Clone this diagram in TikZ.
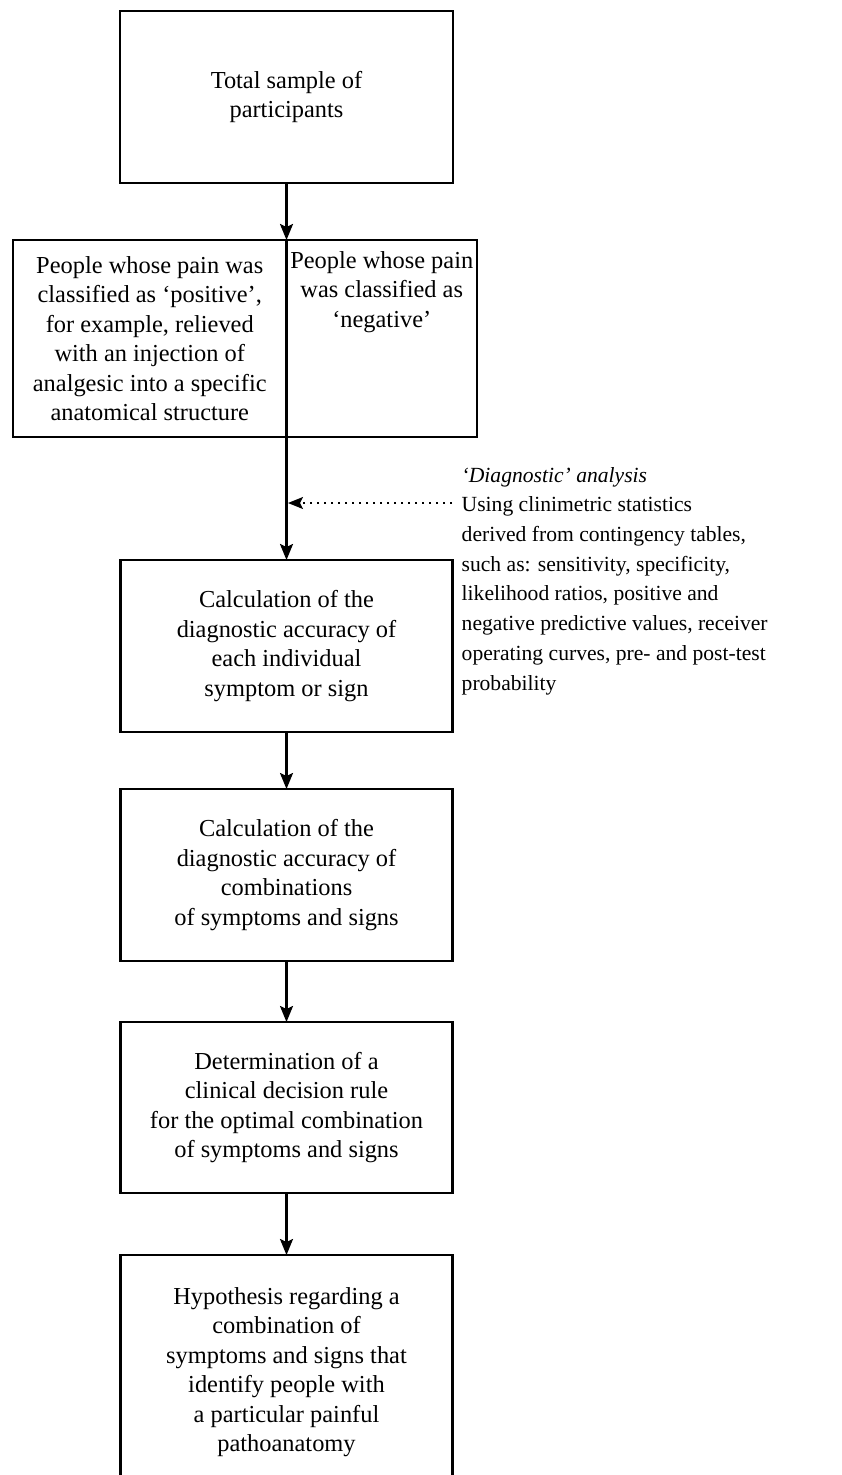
\documentclass[tikz,border=0pt]{standalone}
\usepackage{fontspec}
\setmainfont{Liberation Serif}
\usetikzlibrary{arrows.meta}
\begin{document}
\begin{tikzpicture}[x=1pt,y=-1pt,
  box/.style={draw, line width=2.2pt, align=center, inner sep=0pt, outer sep=0pt,
    font=\fontsize{24.4}{29.5}\selectfont},
  boxtext/.style={align=center, inner sep=0pt, font=\fontsize{24.4}{29.5}\selectfont},
  notetext/.style={align=left, inner sep=0pt, font=\fontsize{21.6}{29.7}\selectfont},
  arr/.style={line width=2.2pt, -{Stealth[length=16pt,width=13pt,inset=3pt]}},
  dotarr/.style={line width=1.6pt, dash pattern=on 1.6pt off 5.4pt,
    -{Stealth[length=15pt,width=12pt,inset=3pt]}, shorten >=1.5pt}
]
\useasboundingbox (0,0) rectangle (841,1475);

\node[box, minimum width=333pt, minimum height=172pt] (total) at (286.5,97)
  {Total sample of\\participants};

\node[box, minimum width=273.5pt, minimum height=197pt] (pos) at (149.75,338.5)
  {People whose pain was\\classified as ‘positive’,\\for example, relieved\\with an injection of\\analgesic into a specific\\anatomical structure};
\node[box, minimum width=190.5pt, minimum height=197pt] (neg) at (381.75,338.5) {};
\node[boxtext, anchor=north] (negtext) at (381.75,251)
  {People whose pain\\was classified as\\‘negative’};

\node[box, minimum width=332pt, minimum height=172pt] (calc1) at (286.5,646)
  {Calculation of the\\diagnostic accuracy of\\each individual\\symptom or sign};
\node[box, minimum width=332pt, minimum height=172pt] (calc2) at (286.5,875)
  {Calculation of the\\diagnostic accuracy of\\combinations\\of symptoms and signs};
\node[box, minimum width=332pt, minimum height=171pt] (rule) at (286.5,1107.5)
  {Determination of a\\clinical decision rule\\for the optimal combination\\of symptoms and signs};
\node[box, minimum width=332pt, minimum height=234pt] (hyp) at (286.5,1372)
  {Hypothesis regarding a\\combination of\\symptoms and signs that\\identify people with\\a particular painful\\pathoanatomy};

\node[notetext, anchor=north west] (note) at (461.5,467)
  {\textit{‘Diagnostic’ analysis}\\Using clinimetric statistics\\derived from contingency tables,\\such as: sensitivity, specificity,\\likelihood ratios, positive and\\negative predictive values, receiver\\operating curves, pre- and post-test\\probability};

\draw[arr] (total.south) -- (neg.north west);
\draw[arr] (neg.south west) -- (calc1.north);
\draw[arr] (calc1.south) -- (calc2.north);
\draw[arr] (calc2.south) -- (rule.north);
\draw[arr] (rule.south) -- (hyp.north);

\coordinate (dstart) at (452,503);
\draw[dotarr] (dstart) -- (dstart -| neg.south west);
\end{tikzpicture}
\end{document}
